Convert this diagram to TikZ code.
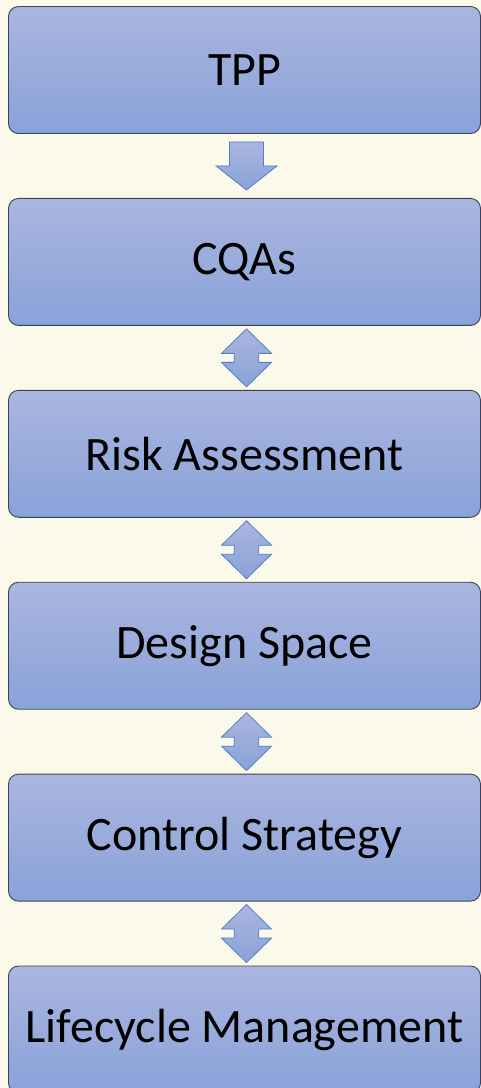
\documentclass[tikz,border=0pt]{standalone}
\usepackage{fontspec}
\setmainfont{Carlito}
\definecolor{paper}{RGB}{251, 249, 233}
\definecolor{boxtop}{RGB}{170, 182, 224}
\definecolor{boxbot}{RGB}{137, 162, 216}
\definecolor{boxline}{RGB}{60, 66, 84}
\definecolor{arrline}{RGB}{84, 124, 200}
\usetikzlibrary{positioning, calc}

\begin{document}
\begin{tikzpicture}[x=1pt, y=1pt,
  stage/.style={draw=boxline, line width=0.9pt, rounded corners=10pt,
    top color=boxtop, bottom color=boxbot, minimum width=472pt, minimum height=127pt,
    inner sep=0pt, font=\fontsize{48}{52}\selectfont},
  arrbody/.style={draw=arrline, line width=0.8pt, line join=miter,
    top color=boxtop, bottom color=boxbot},
  downarr/.pic={\path[arrbody] (-17,24) -- (17,24) -- (17,0) -- (30.5,0) -- (0,-24)
    -- (-30.5,0) -- (-17,0) -- cycle;},
  botharr/.pic={\path[arrbody] (0,29) -- (25,4.5) -- (12.3,4.5) -- (12.3,-4.5) -- (25,-4.5)
    -- (0,-29) -- (-25,-4.5) -- (-12.3,-4.5) -- (-12.3,4.5) -- (-25,4.5) -- cycle;}]

  % Page
  \fill[paper] (0,0) rectangle (481,-1088);
  \useasboundingbox (0,0) rectangle (481,-1088);

  % Stages
  \node[stage] (tpp) at (244.5,-70) {TPP};
  \node[stage, below=64pt of tpp] (cqas) {CQAs};
  \node[stage, below=64pt of cqas] (risk) {Risk Assessment};
  \node[stage, below=64pt of risk] (space) {Design Space};
  \node[stage, below=64pt of space] (control) {Control Strategy};
  \node[stage, below=64pt of control] (life) {Lifecycle Management};

  % Links between stages
  \pic at ($(tpp.south)!0.5!(cqas.north)+(2,0)$) {downarr};
  \pic at ($(cqas.south)!0.5!(risk.north)+(2,0)$) {botharr};
  \pic at ($(risk.south)!0.5!(space.north)+(2,0)$) {botharr};
  \pic at ($(space.south)!0.5!(control.north)+(2,0)$) {botharr};
  \pic at ($(control.south)!0.5!(life.north)+(2,0)$) {botharr};
\end{tikzpicture}
\end{document}
